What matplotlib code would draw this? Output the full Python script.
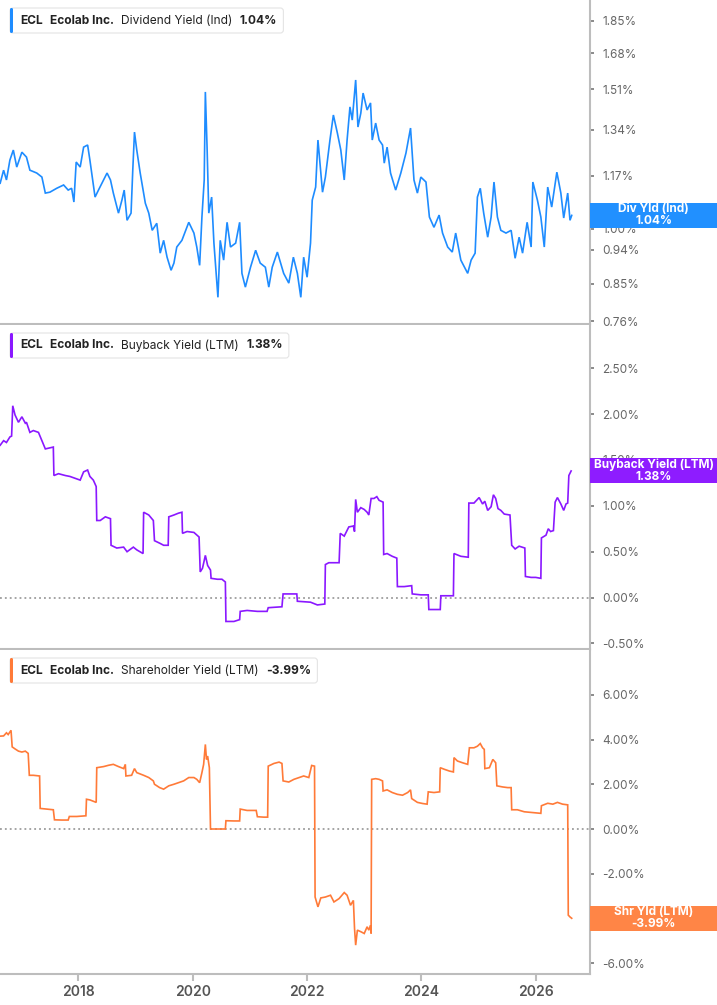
import matplotlib.pyplot as plt
from matplotlib.patches import FancyBboxPatch, Rectangle
from matplotlib.transforms import IdentityTransform
from matplotlib.ticker import FixedLocator, FuncFormatter, NullLocator

plt.rcParams['font.family'] = ['Inter', 'DejaVu Sans']

# ---- data (decimal year, percent) ----
div_dates = [2016.63, 2016.69, 2016.74, 2016.80, 2016.86, 2016.92, 2017.01, 2017.09, 2017.15, 2017.27,
             2017.36, 2017.42, 2017.50, 2017.62, 2017.74, 2017.82, 2017.88, 2017.92, 2017.96, 2018.03,
             2018.09, 2018.16, 2018.20, 2018.29, 2018.35, 2018.44, 2018.50, 2018.56, 2018.61, 2018.70,
             2018.76, 2018.80, 2018.85, 2018.92, 2018.95, 2018.98, 2019.02, 2019.08, 2019.17, 2019.23,
             2019.29, 2019.37, 2019.43, 2019.49, 2019.55, 2019.62, 2019.67, 2019.72, 2019.81, 2019.93,
             2020.02, 2020.07, 2020.12, 2020.16, 2020.20, 2020.22, 2020.25, 2020.28, 2020.33, 2020.37,
             2020.44, 2020.48, 2020.54, 2020.60, 2020.66, 2020.75, 2020.82, 2020.86, 2020.92, 2021.01,
             2021.10, 2021.18, 2021.27, 2021.33, 2021.39, 2021.48, 2021.59, 2021.68, 2021.76, 2021.83,
             2021.89, 2021.94, 2022.00, 2022.06, 2022.09, 2022.15, 2022.19, 2022.27, 2022.32, 2022.40,
             2022.46, 2022.53, 2022.59, 2022.65, 2022.70, 2022.75, 2022.79, 2022.85, 2022.89, 2022.94,
             2022.98, 2023.05, 2023.11, 2023.14, 2023.20, 2023.26, 2023.32, 2023.35, 2023.40, 2023.46,
             2023.55, 2023.64, 2023.73, 2023.81, 2023.87, 2023.93, 2023.99, 2024.08, 2024.14, 2024.22,
             2024.31, 2024.37, 2024.46, 2024.54, 2024.60, 2024.69, 2024.81, 2024.87, 2024.94, 2024.98,
             2025.03, 2025.09, 2025.16, 2025.22, 2025.27, 2025.33, 2025.39, 2025.48, 2025.57, 2025.64,
             2025.71, 2025.77, 2025.85, 2025.92, 2025.95, 2026.03, 2026.09, 2026.15, 2026.21, 2026.28,
             2026.37, 2026.44, 2026.49, 2026.56, 2026.60, 2026.63]
div_vals = [1.144, 1.189, 1.155, 1.225, 1.262, 1.200, 1.254, 1.236, 1.189, 1.179,
            1.165, 1.111, 1.114, 1.127, 1.138, 1.121, 1.127, 1.082, 1.218, 1.200,
            1.273, 1.281, 1.225, 1.098, 1.121, 1.155, 1.179, 1.155, 1.111, 1.047,
            1.088, 1.121, 1.025, 1.047, 1.189, 1.331, 1.262, 1.179, 1.078, 1.047,
            0.995, 1.016, 0.930, 0.966, 0.919, 0.884, 0.903, 0.947, 0.966, 1.019,
            0.987, 0.947, 0.897, 1.035, 1.155, 1.499, 1.273, 1.047, 1.098, 0.958,
            0.816, 0.966, 0.911, 1.019, 0.947, 0.958, 1.019, 0.876, 0.841, 0.892,
            0.938, 0.903, 0.892, 0.841, 0.892, 0.933, 0.876, 0.851, 0.919, 0.876,
            0.816, 0.919, 0.866, 0.958, 1.088, 1.131, 1.300, 1.114, 1.165, 1.300,
            1.400, 1.327, 1.262, 1.155, 1.300, 1.434, 1.379, 1.553, 1.351, 1.408,
            1.494, 1.421, 1.451, 1.300, 1.367, 1.300, 1.281, 1.214, 1.273, 1.179,
            1.121, 1.179, 1.251, 1.347, 1.155, 1.111, 1.165, 1.148, 1.035, 1.004,
            1.041, 0.987, 0.947, 0.933, 0.987, 0.911, 0.876, 0.911, 0.930, 1.098,
            1.127, 1.047, 0.975, 1.035, 1.148, 1.035, 0.995, 0.987, 0.995, 0.916,
            0.975, 0.930, 1.019, 0.947, 1.148, 1.088, 1.035, 0.947, 1.131, 1.066,
            1.182, 1.111, 1.032, 1.111, 1.025, 1.040]

bb_points = [(2016.63, 1.66), (2016.69, 1.71), (2016.74, 1.69), (2016.80, 1.75), (2016.83, 1.76),
             (2016.85, 2.09), (2016.89, 1.99), (2016.95, 1.91), (2017.01, 1.97), (2017.07, 1.90),
             (2017.09, 1.91), (2017.15, 1.80), (2017.21, 1.82), (2017.30, 1.80), (2017.36, 1.71),
             (2017.42, 1.62), (2017.56, 1.64), (2017.57, 1.33), (2017.65, 1.35), (2017.77, 1.33),
             (2017.85, 1.32), (2017.94, 1.30), (2018.03, 1.28), (2018.09, 1.37), (2018.16, 1.39),
             (2018.20, 1.32), (2018.26, 1.28), (2018.31, 1.21), (2018.32, 0.84), (2018.38, 0.84),
             (2018.47, 0.88), (2018.56, 0.86), (2018.57, 0.57), (2018.67, 0.54), (2018.79, 0.55),
             (2018.85, 0.50), (2018.96, 0.55), (2019.02, 0.52), (2019.13, 0.48), (2019.14, 0.93),
             (2019.23, 0.90), (2019.31, 0.84), (2019.33, 0.62), (2019.43, 0.59), (2019.49, 0.57),
             (2019.57, 0.57), (2019.58, 0.88), (2019.67, 0.90), (2019.75, 0.92), (2019.81, 0.93),
             (2019.82, 0.70), (2019.90, 0.72), (2020.02, 0.71), (2020.11, 0.66), (2020.13, 0.28),
             (2020.17, 0.32), (2020.22, 0.46), (2020.26, 0.35), (2020.31, 0.30), (2020.32, 0.21),
             (2020.43, 0.20), (2020.51, 0.20), (2020.57, 0.17), (2020.58, -0.26), (2020.72, -0.26),
             (2020.82, -0.24), (2020.83, -0.15), (2020.95, -0.14), (2021.13, -0.15), (2021.30, -0.15),
             (2021.32, -0.11), (2021.56, -0.10), (2021.58, 0.04), (2021.82, 0.04), (2021.83, -0.04),
             (2022.06, -0.05), (2022.18, -0.08), (2022.31, -0.07), (2022.32, 0.36), (2022.38, 0.38),
             (2022.47, 0.38), (2022.56, 0.38), (2022.58, 0.70), (2022.65, 0.67), (2022.73, 0.77),
             (2022.81, 0.78), (2022.83, 0.72), (2022.85, 1.07), (2022.88, 0.93), (2022.94, 0.98),
             (2023.00, 0.96), (2023.05, 0.93), (2023.08, 0.90), (2023.12, 1.08), (2023.17, 1.08),
             (2023.22, 1.10), (2023.26, 1.06), (2023.33, 1.04), (2023.34, 0.47), (2023.40, 0.48),
             (2023.49, 0.45), (2023.57, 0.43), (2023.58, 0.12), (2023.70, 0.12), (2023.83, 0.13),
             (2023.84, 0.04), (2023.99, 0.03), (2024.12, 0.03), (2024.13, -0.13), (2024.22, -0.13),
             (2024.33, -0.13), (2024.34, 0.02), (2024.46, 0.02), (2024.56, 0.02), (2024.57, 0.48),
             (2024.69, 0.45), (2024.82, 0.44), (2024.83, 1.03), (2024.92, 1.03), (2025.01, 1.09),
             (2025.07, 1.02), (2025.11, 1.05), (2025.16, 0.95), (2025.22, 0.99), (2025.26, 1.12),
             (2025.30, 1.08), (2025.34, 0.97), (2025.39, 0.95), (2025.45, 0.91), (2025.55, 0.90),
             (2025.58, 0.57), (2025.64, 0.53), (2025.71, 0.56), (2025.81, 0.54), (2025.82, 0.23),
             (2025.92, 0.22), (2026.00, 0.22), (2026.09, 0.21), (2026.10, 0.65), (2026.18, 0.68),
             (2026.22, 0.75), (2026.26, 0.72), (2026.31, 0.73), (2026.34, 1.04), (2026.38, 1.09),
             (2026.44, 1.02), (2026.49, 0.95), (2026.53, 1.02), (2026.56, 1.03), (2026.58, 1.33),
             (2026.62, 1.38)]

shr_points = [(2016.63, 4.15), (2016.69, 4.16), (2016.74, 4.30), (2016.77, 4.22), (2016.82, 4.41),
              (2016.84, 3.67), (2016.89, 3.58), (2016.95, 3.48), (2017.01, 3.44), (2017.07, 3.48),
              (2017.12, 3.38), (2017.14, 2.40), (2017.21, 2.40), (2017.32, 2.37), (2017.33, 0.92),
              (2017.45, 0.89), (2017.56, 0.86), (2017.58, 0.41), (2017.71, 0.40), (2017.82, 0.40),
              (2017.84, 0.56), (2017.97, 0.56), (2018.13, 0.59), (2018.14, 1.33), (2018.20, 1.30),
              (2018.31, 1.19), (2018.32, 2.74), (2018.44, 2.79), (2018.53, 2.85), (2018.61, 2.89),
              (2018.70, 2.79), (2018.79, 2.70), (2018.82, 2.89), (2018.83, 2.37), (2018.93, 2.40),
              (2018.98, 2.70), (2019.02, 2.52), (2019.14, 2.40), (2019.23, 2.30), (2019.31, 2.15),
              (2019.33, 2.00), (2019.42, 1.85), (2019.49, 1.78), (2019.58, 1.93), (2019.67, 2.00),
              (2019.75, 2.07), (2019.84, 2.15), (2019.93, 2.30), (2020.02, 2.30), (2020.07, 2.22),
              (2020.12, 2.07), (2020.16, 2.52), (2020.19, 2.89), (2020.22, 3.78), (2020.24, 3.11),
              (2020.26, 3.26), (2020.29, 2.74), (2020.31, 0.00), (2020.42, 0.00), (2020.57, 0.00),
              (2020.58, 0.37), (2020.72, 0.36), (2020.82, 0.36), (2020.83, 0.89), (2020.95, 0.83),
              (2021.11, 0.83), (2021.13, 0.55), (2021.24, 0.53), (2021.31, 0.53), (2021.32, 2.81),
              (2021.42, 2.93), (2021.51, 2.99), (2021.56, 2.93), (2021.58, 2.15), (2021.68, 2.10),
              (2021.77, 2.22), (2021.86, 2.30), (2021.94, 2.37), (2022.03, 2.30), (2022.08, 2.84),
              (2022.13, 2.81), (2022.14, -3.04), (2022.19, -3.48), (2022.24, -3.08), (2022.32, -3.04),
              (2022.41, -2.96), (2022.47, -3.26), (2022.56, -3.11), (2022.65, -2.84), (2022.70, -2.96),
              (2022.76, -3.41), (2022.81, -3.19), (2022.83, -4.44), (2022.85, -5.19), (2022.88, -4.52),
              (2022.94, -4.59), (2023.00, -4.67), (2023.05, -4.37), (2023.08, -4.52), (2023.11, -4.30),
              (2023.12, -4.67), (2023.13, 2.22), (2023.20, 2.25), (2023.26, 2.22), (2023.32, 2.15),
              (2023.33, 1.70), (2023.40, 1.75), (2023.49, 1.63), (2023.58, 1.55), (2023.67, 1.51),
              (2023.76, 1.63), (2023.81, 1.75), (2023.83, 1.36), (2023.93, 1.19), (2024.02, 1.14),
              (2024.10, 1.11), (2024.12, 1.66), (2024.22, 1.63), (2024.32, 1.66), (2024.33, 2.74),
              (2024.40, 2.67), (2024.49, 2.59), (2024.56, 2.55), (2024.57, 3.19), (2024.63, 3.04),
              (2024.72, 2.96), (2024.81, 2.89), (2024.84, 3.63), (2024.92, 3.63), (2024.98, 3.70),
              (2025.03, 3.82), (2025.07, 3.63), (2025.10, 3.56), (2025.11, 2.70), (2025.19, 2.74),
              (2025.25, 3.11), (2025.30, 2.96), (2025.32, 1.93), (2025.42, 1.88), (2025.51, 1.85),
              (2025.57, 1.85), (2025.58, 0.86), (2025.68, 0.86), (2025.80, 0.77), (2025.92, 0.74),
              (2026.09, 0.70), (2026.10, 1.04), (2026.21, 1.15), (2026.30, 1.11), (2026.38, 1.19),
              (2026.47, 1.11), (2026.56, 1.08), (2026.57, -3.85), (2026.60, -3.93), (2026.63, -3.99)]

bb_dates, bb_vals = zip(*bb_points)
shr_dates, shr_vals = zip(*shr_points)

div_ticks = [0.76, 0.85, 0.94, 1.00, 1.17, 1.34, 1.51, 1.68, 1.85]
bb_ticks = [-0.5, 0.0, 0.5, 1.0, 1.5, 2.0, 2.5]
shr_ticks = [-6, -4, -2, 0, 2, 4, 6]
year_ticks = [2018, 2020, 2022, 2024, 2026]

panels = [
    dict(dates=div_dates, vals=div_vals, color='#1e8cff', tag='#2190ff', metric='Dividend Yield (Ind)',
         short='Div Yld (Ind)', ticks=div_ticks, ylim=(0.754, 1.968), log=True, zero=False, px=(0, 324)),
    dict(dates=bb_dates, vals=bb_vals, color='#8a18ff', tag='#8e1cff', metric='Buyback Yield (LTM)',
         short='Buyback Yield (LTM)', ticks=bb_ticks, ylim=(-0.56, 2.97), log=False, zero=True, px=(325, 649)),
    dict(dates=shr_dates, vals=shr_vals, color='#ff7a38', tag='#ff8546', metric='Shareholder Yield (LTM)',
         short='Shr Yld (LTM)', ticks=shr_ticks, ylim=(-6.48, 8.0), log=False, zero=True, px=(650, 974)),
]

W, H = 717, 1005
PLOT_R = 590
fig = plt.figure(figsize=(W / 100, H / 100), dpi=100)
renderer = fig.canvas.get_renderer()
SPINE = '#bdbdbd'

for i, p in enumerate(panels):
    top, bot = p['px']
    ax = fig.add_axes([0, 1 - bot / H, PLOT_R / W, (bot - top) / H])
    ax.plot(p['dates'], p['vals'], color=p['color'], lw=1.2, solid_joinstyle='miter')
    if p['zero']:
        ax.axhline(0, color='#8c8c8c', lw=1.1, ls=(0, (1.2, 2.0)), zorder=0)
    ax.set_xlim(2016.627, 2026.95)
    if p['log']:
        ax.set_yscale('log')
    ax.set_ylim(*p['ylim'])
    ax.yaxis.set_major_locator(FixedLocator(p['ticks']))
    ax.yaxis.set_minor_locator(NullLocator())
    ax.yaxis.set_major_formatter(FuncFormatter(lambda v, pos: f"{v:.2f}%"))
    ax.yaxis.tick_right()
    ax.tick_params(axis='y', length=3, width=1.2, color='#777777', labelcolor='#666666',
                   labelsize=8.5, pad=6)
    for s in ['top', 'left']:
        ax.spines[s].set_visible(False)
    for s in ['right', 'bottom']:
        ax.spines[s].set_color(SPINE)
        ax.spines[s].set_linewidth(1.5)
    ax.set_xticks(year_ticks)
    if i == len(panels) - 1:
        ax.set_xticklabels([str(y) for y in year_ticks])
        ax.tick_params(axis='x', length=5, width=1.5, color=SPINE, labelcolor='#555555',
                       labelsize=10, pad=3)
        for lbl in ax.get_xticklabels():
            lbl.set_fontweight('semibold')
    else:
        ax.tick_params(axis='x', bottom=False, labelbottom=False)

    # value tag at the right, centred on the last value
    last = p['vals'][-1]
    yd = ax.transData.transform((2020, last))[1]
    fig.add_artist(Rectangle((PLOT_R, yd - 12.5), W - PLOT_R, 25, transform=IdentityTransform(),
                             facecolor=p['tag'], edgecolor='none', zorder=10))
    fig.text((PLOT_R + W) / 2 / W, yd / H, f"{p['short']}\n{last:.2f}%", ha='center', va='center',
             color='white', fontsize=8.5, fontweight='bold', linespacing=1.0, zorder=11)

    # legend box at the top left
    yc = H - (top + 20.5)
    x = 20
    parts = [('ECL', 'bold', 7), ('Ecolab Inc.', 'bold', 7), (p['metric'], 'normal', 8),
             (f"{last:.2f}%", 'bold', 0)]
    for txt, wt, gap in parts:
        t = fig.text(x / W, yc / H, txt, ha='left', va='center', fontsize=8.6, fontweight=wt,
                     color='#222222', zorder=12)
        bb = t.get_window_extent(renderer)
        x = bb.x1 + gap
    box_w = x + 6 - 10
    fig.add_artist(FancyBboxPatch((10, yc - 12.5), box_w, 25, boxstyle='round,pad=0,rounding_size=3',
                                  transform=IdentityTransform(), facecolor='white',
                                  edgecolor='#e4e4e4', lw=0.8, zorder=11))
    fig.add_artist(FancyBboxPatch((10, yc - 12.5), 3, 25, boxstyle='round,pad=0,rounding_size=1.4',
                                  transform=IdentityTransform(), facecolor=p['color'],
                                  edgecolor='none', zorder=11.5))

fig.savefig('out.png', dpi=100)
